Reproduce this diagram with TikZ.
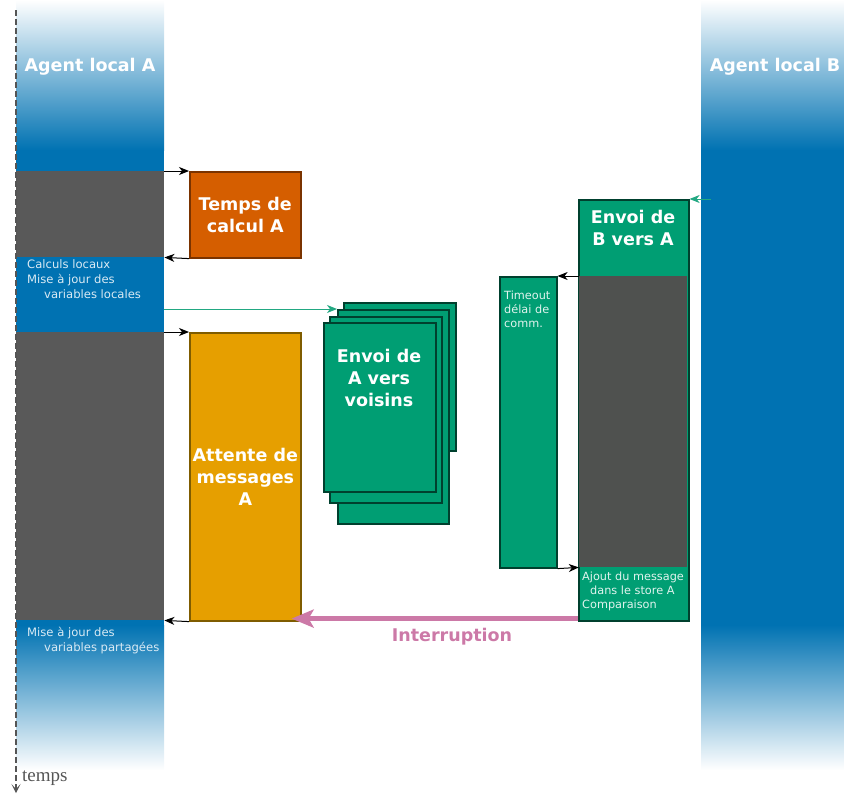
\documentclass[tikz,border=0pt]{standalone}
\usepackage{fontspec}
\setmainfont{DejaVu Sans}
\newfontfamily\tempsfont{Liberation Serif}
\usetikzlibrary{arrows.meta}

\definecolor{agblue}{HTML}{0072B2}
\definecolor{calcgray}{HTML}{595959}
\definecolor{bgray}{HTML}{4F514F}
\definecolor{sendgreen}{HTML}{009E73}
\definecolor{sendborder}{HTML}{00402E}
\definecolor{calcorange}{HTML}{D55E00}
\definecolor{calcborder}{HTML}{7A3300}
\definecolor{waityellow}{HTML}{E69F00}
\definecolor{waitborder}{HTML}{7F5C00}
\definecolor{intpink}{HTML}{CC79A7}
\definecolor{linkgreen}{HTML}{22A882}
\definecolor{timegray}{HTML}{555555}

\tikzset{
  seg/.style={rectangle, inner sep=0pt, anchor=north west, minimum width=148pt},
  box/.style={rectangle, draw, line width=1.6pt, inner sep=0pt, anchor=north west,
    text=white, align=center, font=\bfseries\fontsize{17.5}{22}\selectfont},
  boxtext/.style={inner sep=0pt, text=white, align=center, font=\bfseries\fontsize{17.5}{22}\selectfont},
  sendbox/.style={box, fill=sendgreen, draw=sendborder},
  note/.style={inner sep=0pt, anchor=north west, align=left, text=white!85!agblue,
    font=\fontsize{11.6}{15}\selectfont},
  greennote/.style={note, text=white!88!sendgreen, font=\fontsize{11.3}{14}\selectfont},
  title/.style={inner sep=0pt, text=white, font=\bfseries\fontsize{17.5}{21}\selectfont},
  link/.style={-{Stealth[length=10pt,width=8pt,inset=3pt]}, black, line width=1pt},
  glink/.style={link, linkgreen},
}

\begin{document}
\begin{tikzpicture}[x=1pt, y=-1pt]
	\useasboundingbox (0,0) rectangle (844,798);

	% agent columns
	\shade[top color=white, bottom color=agblue] (16,0) rectangle (164,150);
	\fill[agblue] (16,149.5) rectangle (164,625);
	\shade[top color=agblue, bottom color=white] (16,625) rectangle (164,770);
	\shade[top color=white, bottom color=agblue] (701,0) rectangle (844,150);
	\node[anchor=north west, inner sep=0pt, fill=agblue, minimum width=143pt, minimum height=475.5pt] (colB) at (701,149.5) {};
	\shade[top color=agblue, bottom color=white] (701,625) rectangle (844,770);

	\node[title] (agentA) at (90,67) {Agent local A};
	\node[title] (agentB) at (775,67) {Agent local B};

	\node[seg, fill=calcgray, minimum height=86pt] (gA1) at (16,171) {};
	\node[seg, minimum height=75pt] (bA) at (16,257) {};
	\node[seg, fill=calcgray, minimum height=288pt] (gA2) at (16,332) {};

	\node[note] (noteA1) at (27,259) {Calculs locaux\\Mise à jour des\\\hspace*{17pt}variables locales};
	\node[note] (noteA2) at (27,627) {Mise à jour des\\\hspace*{17pt}variables partagées};

	% agent A side
	\node[box, fill=calcorange, draw=calcborder, minimum width=111pt, minimum height=86pt] (calc) at (189,171) {Temps de\\calcul A};
	\node[box, fill=waityellow, draw=waitborder, minimum width=111pt, minimum height=288pt] (att) at (189,332) {Attente de\\messages\\A};

	\draw[link] (gA1.north east) -- (calc.north west);
	\draw[link] (calc.south west) -- (gA1.south east);
	\draw[link] (gA2.north east) -- (att.north west);
	\draw[link] (att.south west) -- (gA2.south east);

	\node[sendbox, minimum width=112pt, minimum height=148pt] (env1) at (343,302) {};
	\node[sendbox, minimum width=111pt, minimum height=214pt] (env2) at (337,309) {};
	\node[sendbox, minimum width=112pt, minimum height=186pt] (env3) at (329,316) {};
	\node[sendbox, minimum width=112pt, minimum height=169pt] (env4) at (323,322) {};
	\node[boxtext] (envAtxt) at (379,378) {Envoi de\\A vers\\voisins};

	\draw[glink] (bA.east |- env2.north west) -- (env2.north west);

	% agent B side
	\node[sendbox, minimum width=110pt, minimum height=421pt] (envB) at (578,199) {};
	\node[anchor=north west, inner sep=0pt, fill=bgray, minimum width=108.4pt, minimum height=291pt] (gB) at (578.8,276) {};
	\node[boxtext] (envBtxt) at (633,228) {Envoi de\\B vers A};
	\node[greennote] (noteB) at (582,572) {Ajout du message\\\hspace*{8pt}dans le store A\\Comparaison};

	\node[sendbox, minimum width=57pt, minimum height=291pt] (tmo) at (499,276) {};
	\node[greennote] (tmotxt) at (504,291) {Timeout\\délai de\\comm.};

	\draw[glink] ([xshift=10pt]colB.west |- envB.north east) -- (envB.north east);
	\draw[link] (gB.north west) -- (tmo.north east);
	\draw[link] (tmo.south east) -- (gB.south west);

	\draw[intpink, line width=5pt, -{Stealth[length=22pt,width=18pt,inset=5pt]}]
		([yshift=3pt]envB.south west) -- ([xshift=-10pt,yshift=3pt]att.south east)
		node[pos=0.44, below=7pt, inner sep=0pt, font=\bfseries\fontsize{17.5}{21}\selectfont] (intr) {Interruption};

	% time axis
	\coordinate (tStart) at (16,10);
	\coordinate (tEnd) at (16,793);
	\draw[timegray, line width=1.4pt, dash pattern=on 6pt off 3pt, -{Stealth[length=9pt,width=9pt,inset=5pt]}] (tStart) -- (tEnd);
	\node[anchor=west, inner sep=0pt, text=timegray, font=\tempsfont\fontsize{19}{20}\selectfont] (temps) at (22,778) {temps};
\end{tikzpicture}
\end{document}
